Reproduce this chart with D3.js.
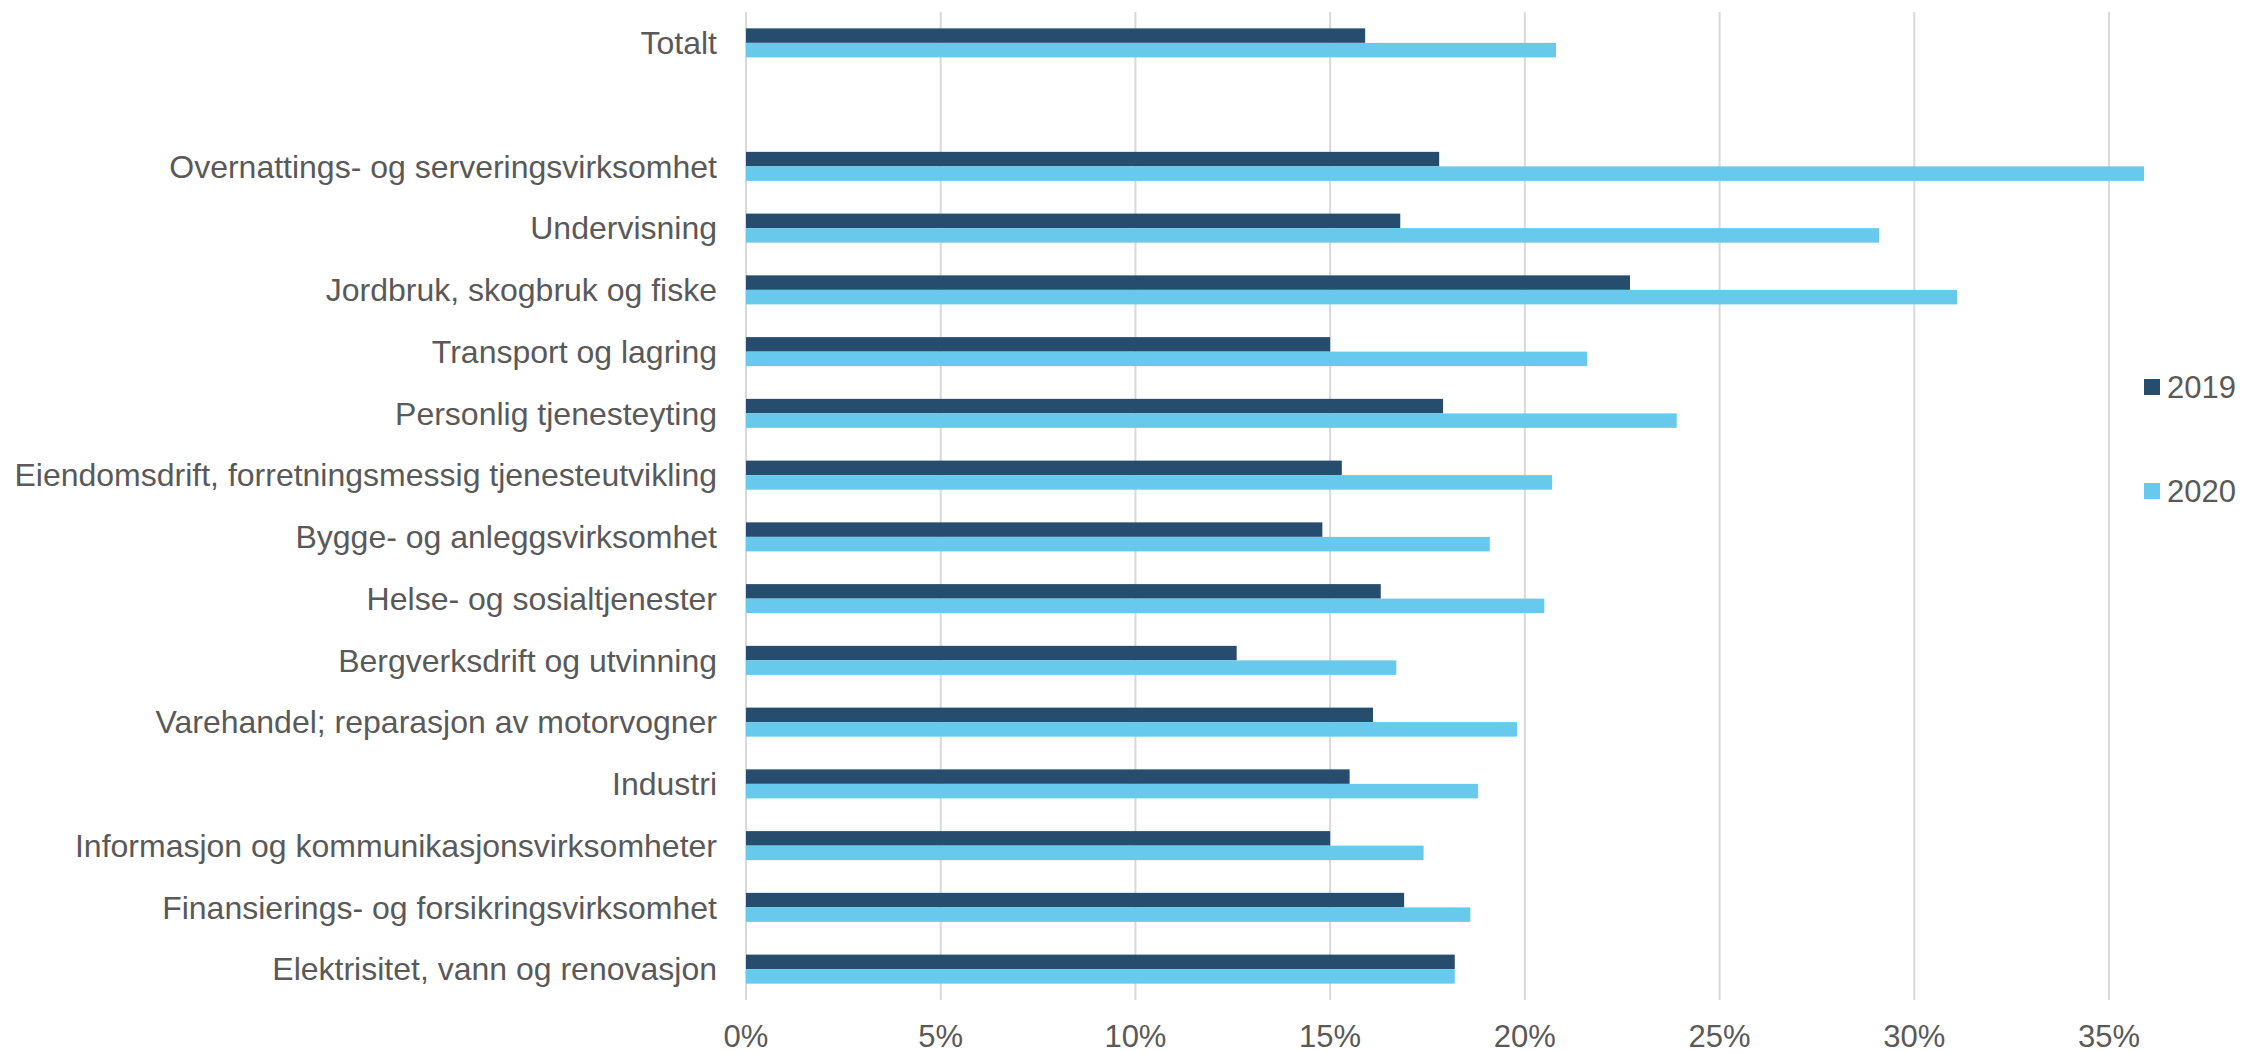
<!doctype html>
<html>
<head>
<meta charset="utf-8">
<style>
body { margin: 0; background: white; font-family: "Liberation Sans", Arial, sans-serif; }
</style>
<script src="https://cdnjs.cloudflare.com/ajax/libs/d3/7.8.5/d3.min.js"></script>
</head>
<body>
<div id="chart"></div>
<script>
// categories top to bottom ("" = empty row under Totalt)
var categories = ["Totalt", "", "Overnattings- og serveringsvirksomhet", "Undervisning",
  "Jordbruk, skogbruk og fiske", "Transport og lagring", "Personlig tjenesteyting",
  "Eiendomsdrift, forretningsmessig tjenesteutvikling", "Bygge- og anleggsvirksomhet",
  "Helse- og sosialtjenester", "Bergverksdrift og utvinning", "Varehandel; reparasjon av motorvogner",
  "Industri", "Informasjon og kommunikasjonsvirksomheter", "Finansierings- og forsikringsvirksomhet",
  "Elektrisitet, vann og renovasjon"];
var series = ["2019", "2020"];
var values2019 = [0.159, null, 0.178, 0.168, 0.227, 0.150, 0.179, 0.153, 0.148, 0.163, 0.126, 0.161, 0.155, 0.150, 0.169, 0.182];
var values2020 = [0.208, null, 0.359, 0.291, 0.311, 0.216, 0.239, 0.207, 0.191, 0.205, 0.167, 0.198, 0.188, 0.174, 0.186, 0.182];
var ticks = [0, 0.05, 0.10, 0.15, 0.20, 0.25, 0.30, 0.35];

var W = 2243, H = 1053;
var colors = {"2019": "#264d6e", "2020": "#67caec"};
var textColor = "#595959";

var svg = d3.select("#chart").append("svg")
  .attr("width", W).attr("height", H);

var x = d3.scaleLinear().domain([0, 0.35]).range([746, 2109]);
var y = d3.scaleBand().domain(d3.range(categories.length)).range([12, 1000])
  .paddingInner(0.53).paddingOuter(0.265);
var ySub = d3.scaleBand().domain(series).range([0, y.bandwidth()]);

// gridlines
svg.append("g").selectAll("line").data(ticks).enter().append("line")
  .attr("x1", function(d) { return x(d); }).attr("x2", function(d) { return x(d); })
  .attr("y1", 12).attr("y2", 1000)
  .attr("stroke", "#d9d9d9").attr("stroke-width", 2);

// x tick labels
svg.append("g").selectAll("text").data(ticks).enter().append("text")
  .attr("x", function(d) { return x(d); }).attr("y", 1047)
  .attr("text-anchor", "middle").attr("font-size", 31).attr("fill", textColor)
  .text(d3.format(".0%"));

// category labels
svg.append("g").selectAll("text").data(categories).enter().append("text")
  .attr("x", 717).attr("y", function(d, i) { return y(i) + y.bandwidth() / 2; })
  .attr("dy", "0.35em").attr("text-anchor", "end")
  .attr("font-size", 32).attr("fill", textColor)
  .text(function(d) { return d; });

// bars
var rows = categories.map(function(c, i) {
  return {i: i, vals: [{s: "2019", v: values2019[i]}, {s: "2020", v: values2020[i]}]};
}).filter(function(r) { return r.vals[0].v != null; });

var groups = svg.append("g").selectAll("g").data(rows).enter().append("g")
  .attr("transform", function(d) { return "translate(0," + y(d.i) + ")"; });

groups.selectAll("rect").data(function(d) { return d.vals; }).enter().append("rect")
  .attr("x", x(0))
  .attr("y", function(d) { return ySub(d.s); })
  .attr("width", function(d) { return x(d.v) - x(0); })
  .attr("height", ySub.bandwidth())
  .attr("fill", function(d) { return colors[d.s]; });

// legend
var legendY = {"2019": 387, "2020": 491};
var leg = svg.append("g").selectAll("g").data(series).enter().append("g")
  .attr("transform", function(d) { return "translate(2144," + legendY[d] + ")"; });
leg.append("rect").attr("x", 0).attr("y", -8).attr("width", 16).attr("height", 16)
  .attr("fill", function(d) { return colors[d]; });
leg.append("text").attr("x", 23).attr("y", 0).attr("dy", "0.35em")
  .attr("font-size", 31).attr("fill", textColor)
  .text(function(d) { return d; });
</script>
</body>
</html>
